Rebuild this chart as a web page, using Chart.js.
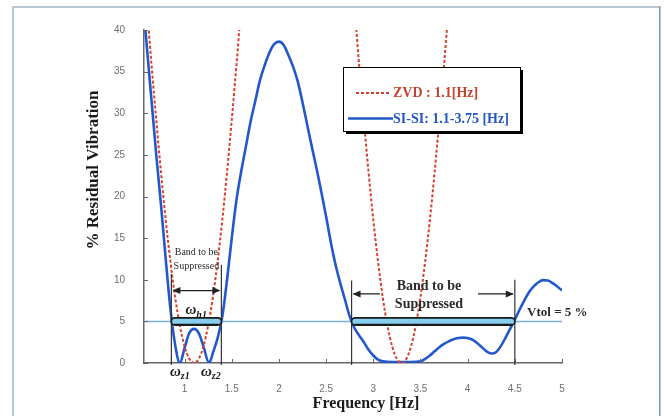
<!DOCTYPE html>
<html>
<head>
<meta charset="utf-8">
<title>Residual Vibration</title>
<script src="https://cdn.jsdelivr.net/npm/chart.js@4.4.1/dist/chart.umd.min.js"></script>
<style>
  html, body { margin: 0; padding: 0; background: #fff; }
  #wrap { width: 667px; height: 416px; position: relative; }
</style>
</head>
<body>
<div id="wrap"><canvas id="chart" width="667" height="416"></canvas></div>
<script>
// ================================================
// DATA
// ================================================

// ZVD shaper tuned to 1.1 Hz
const freqZVD = [0.57, 0.6, 0.65, 0.7, 0.75, 0.8, 0.85, 0.9, 0.95, 1.0, 1.05, 1.1, 1.15, 1.2, 1.25,
    1.3, 1.35, 1.4, 1.45, 1.5, 1.55, 1.6, 1.65, 1.8, 2.2, 2.6, 2.75, 2.8, 2.85, 2.9, 2.95, 3.0,
    3.05, 3.1, 3.15, 3.2, 3.25, 3.3, 3.35, 3.4, 3.45, 3.5, 3.55, 3.6, 3.65, 3.7, 3.75, 3.8, 3.85,
    4.0, 4.4, 5.0];
const vibZVD = [47.1, 42.9, 35.8, 29.2, 22.9, 17.2, 12.2, 7.9, 4.5, 2.0, 0.5, 0, 0.5, 2.0, 4.5,
    7.9, 12.2, 17.2, 22.9, 29.2, 35.8, 42.9, 50, 70.8, 100, 70.8, 50, 42.9, 35.8, 29.2, 22.9, 17.2,
    12.2, 7.9, 4.5, 2.0, 0.5, 0, 0.5, 2.0, 4.5, 7.9, 12.2, 17.2, 22.9, 29.2, 35.8, 42.9, 50,
    70.8, 100, 42.9];

// SI-SI shaper, 1.1 - 3.75 Hz
const freqSISI = [0.57, 0.6, 0.65, 0.7, 0.75, 0.8, 0.85, 0.9, 0.95, 1.0, 1.05, 1.1, 1.15, 1.2, 1.26,
    1.3, 1.35, 1.4, 1.45, 1.5, 1.55, 1.6, 1.65, 1.7, 1.75, 1.8, 1.85, 1.9, 1.95, 2.0, 2.05, 2.1,
    2.15, 2.2, 2.25, 2.3, 2.35, 2.4, 2.45, 2.5, 2.55, 2.6, 2.65, 2.7, 2.75, 2.8, 2.85, 2.9, 2.95,
    3.0, 3.05, 3.1, 3.2, 3.3, 3.4, 3.5, 3.55, 3.6, 3.65, 3.7, 3.75, 3.8, 3.85, 3.9, 3.95, 4.0,
    4.05, 4.1, 4.15, 4.2, 4.25, 4.3, 4.35, 4.4, 4.45, 4.5, 4.55, 4.6, 4.65, 4.7, 4.75, 4.8, 4.85,
    4.9, 4.95, 5.0];
const vibSISI = [42, 38, 31.5, 25, 19, 12.5, 6.5, 2.2, 0, 1.8, 3.6, 4.1, 3.6, 2.0, 0,
    1.2, 3.0, 5.6, 10, 15, 19.6, 23, 26, 29, 31.5, 34, 35.8, 37.3, 38.3, 38.6, 38.2, 37,
    35.6, 33.8, 31.3, 28.6, 25.9, 23.3, 20.5, 17.6, 14.5, 11.8, 9.6, 7.6, 5.6, 4.2, 3.3, 2.5, 1.6,
    0.9, 0.4, 0.2, 0.1, 0.1, 0.1, 0.2, 0.5, 0.9, 1.4, 1.9, 2.3, 2.6, 2.85, 3.0, 3.05, 3.0,
    2.8, 2.4, 1.9, 1.4, 1.15, 1.3, 2.0, 3.0, 4.1, 5.2, 6.4, 7.5, 8.5, 9.2, 9.7, 9.95, 9.9,
    9.6, 9.2, 8.7];

const seriesLabels = ['ZVD : 1.1[Hz]', 'SI-SI: 1.1-3.75 [Hz]'];
const xTickValues = [1, 1.5, 2, 2.5, 3, 3.5, 4, 4.5, 5];
const yTickValues = [0, 5, 10, 15, 20, 25, 30, 35, 40];

const vtol = 5;
const bandLow = [0.86, 1.39];
const bandHigh = [2.77, 4.5];

const RED = '#d6402e';
const BLUE = '#2358cc';
const SERIF = '"Liberation Serif", "DejaVu Serif", serif';

/**
 * SMALL DRAWING HELPERS
 */
function arrowHead(ctx, x, y, dir) {
    ctx.beginPath();
    ctx.moveTo(x, y);
    ctx.lineTo(x - dir * 8, y - 3.5);
    ctx.lineTo(x - dir * 8, y + 3.5);
    ctx.closePath();
    ctx.fill();
}

function subLabel(ctx, x, y, main, sub, size) {
    ctx.font = 'italic bold ' + size + 'px ' + SERIF;
    ctx.textAlign = 'left';
    ctx.textBaseline = 'middle';
    ctx.fillText(main, x, y);
    const w = ctx.measureText(main).width;
    ctx.font = 'italic bold ' + Math.round(size * 0.68) + 'px ' + SERIF;
    ctx.fillText(sub, x + w, y + size * 0.32);
}

/**
 * FRAME + BACKGROUND
 */
const framePlugin = {
    id: 'frame',
    beforeDraw(chart) {
        const ctx = chart.ctx;
        ctx.save();
        ctx.fillStyle = '#ffffff';
        ctx.fillRect(0, 0, chart.width, chart.height);
        ctx.fillStyle = '#b9c8d0';
        ctx.fillRect(12, 6, 647, 2);
        ctx.fillRect(12, 6, 2, chart.height - 6);
        ctx.fillStyle = '#7f95a3';
        ctx.fillRect(659, 6, 1.5, chart.height - 6);
        ctx.restore();
    }
};

/**
 * TOLERANCE LINE (under the curves)
 */
const tolPlugin = {
    id: 'tol',
    beforeDatasetsDraw(chart) {
        const ctx = chart.ctx;
        const { x, y } = chart.scales;
        const py = y.getPixelForValue(vtol);
        ctx.save();
        ctx.strokeStyle = '#7aaee0';
        ctx.lineWidth = 1.5;
        ctx.beginPath();
        ctx.moveTo(x.getPixelForValue(x.min), py);
        ctx.lineTo(x.getPixelForValue(x.max), py);
        ctx.stroke();
        ctx.restore();
    }
};

/**
 * ANNOTATIONS, INSIDE TICKS, LEGEND, AXIS TITLES
 */
const notesPlugin = {
    id: 'notes',
    afterDatasetsDraw(chart) {
        const ctx = chart.ctx;
        const { x, y } = chart.scales;
        const area = chart.chartArea;
        const X = v => x.getPixelForValue(v);
        const Y = v => y.getPixelForValue(v);

        ctx.save();

        // inside tick marks
        ctx.strokeStyle = '#666';
        ctx.lineWidth = 1;
        xTickValues.forEach(v => {
            ctx.beginPath();
            ctx.moveTo(Math.round(X(v)) + 0.5, area.bottom);
            ctx.lineTo(Math.round(X(v)) + 0.5, area.bottom - 4);
            ctx.stroke();
        });
        yTickValues.forEach(v => {
            ctx.beginPath();
            ctx.moveTo(area.left, Math.round(Y(v)) + 0.5);
            ctx.lineTo(area.left + 4, Math.round(Y(v)) + 0.5);
            ctx.stroke();
        });

        // band limit verticals
        ctx.strokeStyle = '#333';
        ctx.lineWidth = 1.2;
        [[bandLow[0], 10.7], [bandLow[1], 11.8], [bandHigh[0], 9.9], [bandHigh[1], 10]].forEach(([v, top]) => {
            ctx.beginPath();
            ctx.moveTo(X(v), Y(0) + 2);
            ctx.lineTo(X(v), Y(top));
            ctx.stroke();
        });

        // band bars at Vtol
        [bandLow, bandHigh].forEach(b => {
            const x1 = X(b[0]), x2 = X(b[1]), py = Y(vtol);
            ctx.beginPath();
            ctx.roundRect(x1, py - 3.5, x2 - x1, 7, 3.5);
            ctx.fillStyle = '#86cdee';
            ctx.fill();
            ctx.lineWidth = 1.6;
            ctx.strokeStyle = '#1b1b1b';
            ctx.stroke();
            ctx.beginPath();
            ctx.moveTo(x1 + 3, py + 3.5);
            ctx.lineTo(x2 - 3, py + 3.5);
            ctx.lineWidth = 2.2;
            ctx.stroke();
        });

        // arrows
        ctx.strokeStyle = '#222';
        ctx.fillStyle = '#222';
        ctx.lineWidth = 1.3;
        let ay = Y(8.7);
        ctx.beginPath();
        ctx.moveTo(X(bandLow[0]) + 2, ay);
        ctx.lineTo(X(bandLow[1]) - 2, ay);
        ctx.stroke();
        arrowHead(ctx, X(bandLow[0]) + 1, ay, -1);
        arrowHead(ctx, X(bandLow[1]) - 1, ay, 1);

        ay = Y(8.3);
        ctx.beginPath();
        ctx.moveTo(X(bandHigh[0]) + 2, ay);
        ctx.lineTo(X(3.07), ay);
        ctx.moveTo(X(4.11), ay);
        ctx.lineTo(X(bandHigh[1]) - 2, ay);
        ctx.stroke();
        arrowHead(ctx, X(bandHigh[0]) + 1, ay, -1);
        arrowHead(ctx, X(bandHigh[1]) - 1, ay, 1);

        // band texts
        ctx.fillStyle = '#2b2b2b';
        ctx.textAlign = 'center';
        ctx.textBaseline = 'middle';
        ctx.font = '10px ' + SERIF;
        ctx.fillText('Band to be', X(1.125), Y(13.3));
        ctx.fillText('Suppressed', X(1.125), Y(11.6));
        ctx.font = 'bold 14px ' + SERIF;
        ctx.fillText('Band to be', X(3.59), Y(9.25));
        ctx.fillText('Suppressed', X(3.59), Y(7.0));

        ctx.textAlign = 'left';
        ctx.font = 'bold 13px ' + SERIF;
        ctx.fillText('Vtol = 5 %', X(4.63), Y(6.0));

        // omega labels
        ctx.fillStyle = '#1a1a1a';
        subLabel(ctx, X(1.01), Y(6.3), '\u03c9', 'h1', 15);
        subLabel(ctx, area.left + 26, area.bottom + 9, '\u03c9', 'z1', 15);
        subLabel(ctx, area.left + 57, area.bottom + 9, '\u03c9', 'z2', 15);

        ctx.restore();
    },
    afterDraw(chart) {
        const ctx = chart.ctx;
        const ds = chart.data.datasets;
        ctx.save();

        // legend box with drop shadow
        const bx = 343, by = 67, bw = 177, bh = 64;
        ctx.fillStyle = '#000';
        ctx.fillRect(bx + 3, by + 3, bw, bh);
        ctx.fillStyle = '#fff';
        ctx.fillRect(bx, by, bw, bh);
        ctx.strokeStyle = '#000';
        ctx.lineWidth = 1;
        ctx.strokeRect(bx + 0.5, by + 0.5, bw, bh);

        ctx.lineWidth = ds[0].borderWidth;
        ctx.strokeStyle = ds[0].borderColor;
        ctx.setLineDash(ds[0].borderDash);
        ctx.beginPath();
        ctx.moveTo(356, 93);
        ctx.lineTo(389, 93);
        ctx.stroke();
        ctx.setLineDash([]);
        ctx.lineWidth = ds[1].borderWidth;
        ctx.strokeStyle = ds[1].borderColor;
        ctx.beginPath();
        ctx.moveTo(348, 118.5);
        ctx.lineTo(393, 118.5);
        ctx.stroke();

        ctx.font = 'bold 14px ' + SERIF;
        ctx.textAlign = 'left';
        ctx.textBaseline = 'middle';
        ctx.fillStyle = '#c2432f';
        ctx.fillText(ds[0].label, 393, 93);
        ctx.fillStyle = '#2456c4';
        ctx.fillText(ds[1].label, 393, 119);

        // axis titles
        ctx.fillStyle = '#1a1a1a';
        ctx.font = 'bold 16px ' + SERIF;
        ctx.textAlign = 'center';
        ctx.fillText('Frequency [Hz]', 366, 404);
        ctx.translate(94, 170);
        ctx.rotate(-Math.PI / 2);
        ctx.font = 'bold 17px ' + SERIF;
        ctx.fillText('% Residual Vibration', 0, 0);

        ctx.restore();
    }
};

/**
 * BUILD CHART
 */
function toPoints(xs, ys) {
    return xs.map((v, i) => ({ x: v, y: ys[i] }));
}

const tickFont = { family: '"Liberation Sans", Arial, sans-serif', size: 10 };

new Chart(document.getElementById('chart').getContext('2d'), {
    type: 'line',
    data: {
        datasets: [{
            label: seriesLabels[0],
            data: toPoints(freqZVD, vibZVD),
            borderColor: RED,
            borderWidth: 2,
            borderDash: [3, 2],
            pointRadius: 0,
            fill: false,
            cubicInterpolationMode: 'monotone'
        }, {
            label: seriesLabels[1],
            data: toPoints(freqSISI, vibSISI),
            borderColor: BLUE,
            borderWidth: 2.6,
            pointRadius: 0,
            fill: false,
            cubicInterpolationMode: 'monotone'
        }]
    },
    options: {
        responsive: false,
        animation: false,
        layout: { padding: { top: 30, right: 105, left: 0, bottom: 0 } },
        plugins: {
            legend: { display: false },
            tooltip: { enabled: false }
        },
        scales: {
            x: {
                type: 'linear',
                min: 0.57,
                max: 5,
                afterBuildTicks: s => { s.ticks = xTickValues.map(v => ({ value: v })); },
                afterFit: s => { s.height = 53; },
                grid: { display: false, drawTicks: false },
                border: { display: true, color: '#666', width: 1.5 },
                ticks: { padding: 20, color: '#6e6e6e', font: tickFont, callback: v => String(v) }
            },
            y: {
                type: 'linear',
                min: 0,
                max: 40,
                afterBuildTicks: s => { s.ticks = yTickValues.map(v => ({ value: v })); },
                afterFit: s => { s.width = 144; },
                grid: { display: false, drawTicks: false },
                border: { display: true, color: '#666', width: 1.5 },
                ticks: { padding: 19, color: '#6e6e6e', font: tickFont, callback: v => String(v) }
            }
        }
    },
    plugins: [framePlugin, tolPlugin, notesPlugin]
});
</script>
</body>
</html>
